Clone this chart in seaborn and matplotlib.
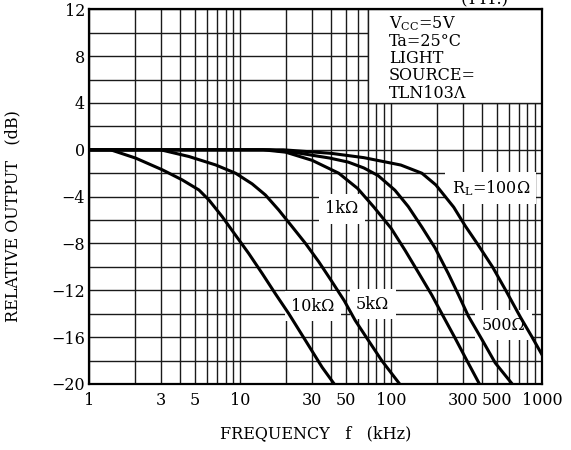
import numpy as np
import pandas as pd
import matplotlib
matplotlib.use("Agg")
import matplotlib.pyplot as plt
from matplotlib.patches import Rectangle
from matplotlib.ticker import FixedLocator, NullFormatter
import seaborn as sns

# ---- data ----
f_10k = [1, 1.385, 2.03, 3.05, 4.13, 5.33, 6.21, 7.6, 9.31, 11.4, 14.0, 17.1, 21.0, 27.1, 34.9, 42]
db_10k = [0, 0, -0.71, -1.71, -2.57, -3.43, -4.29, -5.71, -7.29, -8.86, -10.57, -12.29, -14.0,
          -16.29, -18.57, -20]

f_5k = [1, 2.97, 4.57, 6.87, 9.32, 12.0, 14.7, 18.0, 22.1, 27.1, 33.2, 40.0, 49.0, 57.8, 70.8,
        86.7, 114]
db_5k = [0, 0, -0.57, -1.29, -2.0, -2.91, -3.86, -5.14, -6.57, -8.0, -9.57, -11.14, -12.9,
         -14.57, -16.29, -18.0, -20]

f_1k = [1, 14.2, 20, 30, 45, 60, 77, 100, 124, 152, 186, 217, 266, 318, 385]
db_1k = [0, 0, -0.2, -0.9, -2.0, -3.3, -4.9, -6.7, -8.6, -10.5, -12.4, -14.0, -16.1, -18.0, -20]

f_500 = [1, 15.7, 25, 39, 52, 66, 82, 106, 130, 160, 196, 240, 280, 325, 400, 490, 635]
db_500 = [0, 0, -0.3, -0.7, -1.05, -1.55, -2.2, -3.45, -4.85, -6.6, -8.4, -10.6, -12.4, -14.2,
          -16.2, -18.2, -20]

f_100 = [1, 19.3, 40, 66, 116, 160, 198, 260, 310, 372, 470, 575, 720, 860, 1000]
db_100 = [0, 0, -0.3, -0.67, -1.3, -2.0, -3.0, -4.9, -6.5, -8.0, -10.0, -12.0, -14.3, -16.0,
          -17.5]

curve_names = ["10k", "5k", "1k", "500", "100"]
x_ticks = [1, 3, 5, 10, 30, 50, 100, 300, 500, 1000]
x_ticklabels = ["1", "3", "5", "10", "30", "50", "100", "300", "500", "1000"]
y_ticks = [-20, -16, -12, -8, -4, 0, 4, 8, 12]

labels = [r"R$_\mathregular{L}$=100Ω", "1kΩ", "10kΩ", "5kΩ", "500Ω"]
label_f = [457, 47.1, 30.3, 75.5, 555]
label_db = [-3.27, -5.03, -13.34, -13.2, -14.97]

cond_lines = [r"V$_\mathregular{CC}$=5V", "Ta=25°C", "LIGHT", "SOURCE=", "TLN103Λ"]

# ---- build table ----
frames = []
for name, fx, dy in zip(curve_names, [f_10k, f_5k, f_1k, f_500, f_100],
                        [db_10k, db_5k, db_1k, db_500, db_100]):
    frames.append(pd.DataFrame({"f": fx, "db": dy, "RL": name}))
df = pd.concat(frames, ignore_index=True)

plt.rcParams["font.family"] = ["DejaVu Serif"]
plt.rcParams["mathtext.fontset"] = "dejavuserif"
plt.rcParams["axes.unicode_minus"] = True

W, H = 571, 450
fig = plt.figure(figsize=(W / 100, H / 100), dpi=100)
L, R, T, B = 89.3, 542, 9.3, 384
ax = fig.add_axes([L / W, 1 - B / H, (R - L) / W, (B - T) / H])

ax.set_xscale("log")
sns.lineplot(data=df, x="f", y="db", hue="RL", estimator=None,
             sort=False, palette=["black"] * 5, legend=False, linewidth=2.2,
             ax=ax, zorder=3)
ax.set_xlim(1, 1000)
ax.set_ylim(-20, 12)

# grid
minor = [m * 10 ** d for d in range(0, 3) for m in range(2, 10)]
ax.xaxis.set_major_locator(FixedLocator(x_ticks))
ax.xaxis.set_minor_locator(FixedLocator(minor))
ax.xaxis.set_minor_formatter(NullFormatter())
ax.set_xticklabels(x_ticklabels)
ax.set_yticks(y_ticks)
ax.set_yticklabels([f"{v}".replace("-", "\u2212") for v in y_ticks])
ax.yaxis.set_minor_locator(FixedLocator(np.arange(-20, 13, 2)))
ax.set_axisbelow(True)
ax.grid(True, which="both", color="#1a1a1a", linewidth=1.0)
ax.tick_params(which="both", length=0)
ax.tick_params(axis="x", pad=5.5, labelsize=11.5)
ax.tick_params(axis="y", pad=3, labelsize=11.5)
for s in ax.spines.values():
    s.set_linewidth(1.6)
    s.set_color("black")

# condition box
ax.add_patch(Rectangle((70, 4), 930, 8, facecolor="white", edgecolor="#1a1a1a",
                       linewidth=1.0, zorder=1))
base_y = [28, 45.5, 62.8, 80.2, 97.5]
for txt, by in zip(cond_lines, base_y):
    fig.text(389 / W, 1 - by / H, txt, fontsize=11.5, va="baseline", ha="left")

# curve labels
for txt, lf, ld in zip(labels, label_f, label_db):
    ax.text(lf, ld, txt, fontsize=11.5, ha="center", va="center", zorder=2,
            bbox=dict(boxstyle="square,pad=0.4", facecolor="white", edgecolor="none"))

# axis labels
ax.set_xlabel("FREQUENCY   f   (kHz)", fontsize=11.5)
ax.xaxis.set_label_coords(0.5, (B - 425) / (B - T))
ax.set_ylabel("RELATIVE OUTPUT   (dB)", fontsize=11.5)
ax.yaxis.set_label_coords((21 - L) / (R - L), (B - 216) / (B - T))

fig.text(485 / W, 1 - 4 / H, "(TYP.)", fontsize=12, ha="center", va="baseline")

fig.savefig("out.png", dpi=100)
